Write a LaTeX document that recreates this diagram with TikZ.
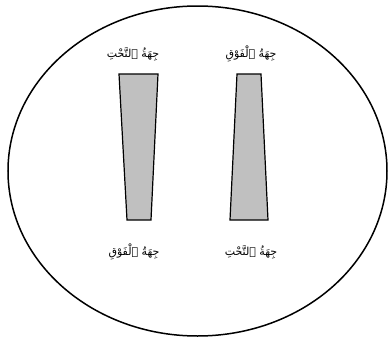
\documentclass[tikz,border=0pt]{standalone}
\usepackage{fontspec}
\TeXXeTstate=1
\newfontfamily\arabicfont[Script=Arabic]{DejaVu Sans}
\definecolor{trapgray}{RGB}{192,192,192}
\tikzset{
  lbl/.style={font=\arabicfont\fontsize{11}{13}\selectfont, inner sep=0pt},
  trap/.style={draw=black, fill=trapgray, line width=1.2pt, line join=miter},
}
\begin{document}
\begin{tikzpicture}[x=1pt,y=-1pt]
\useasboundingbox (0,0) rectangle (389,338);
\begin{scope}
\clip (0,0) rectangle (389,338);
\draw[line width=1.5pt] (197.5,171) ellipse [x radius=189.5, y radius=165];
\end{scope}
\draw[trap] (119,74) -- (158,74) -- (151,220) -- (127,220) -- cycle;
\draw[trap] (237,74) -- (261,74) -- (268,220) -- (230,220) -- cycle;
\node[lbl] (tl) at (133,54) {\beginR جِهَةُ ٱلتَّحْتِ\endR};
\node[lbl] (tr) at (251,54) {\beginR جِهَةُ ٱلْفَوْقِ\endR};
\node[lbl] (bl) at (134,252) {\beginR جِهَةُ ٱلْفَوْقِ\endR};
\node[lbl] (br) at (251,252) {\beginR جِهَةُ ٱلتَّحْتِ\endR};
\end{tikzpicture}
\end{document}
